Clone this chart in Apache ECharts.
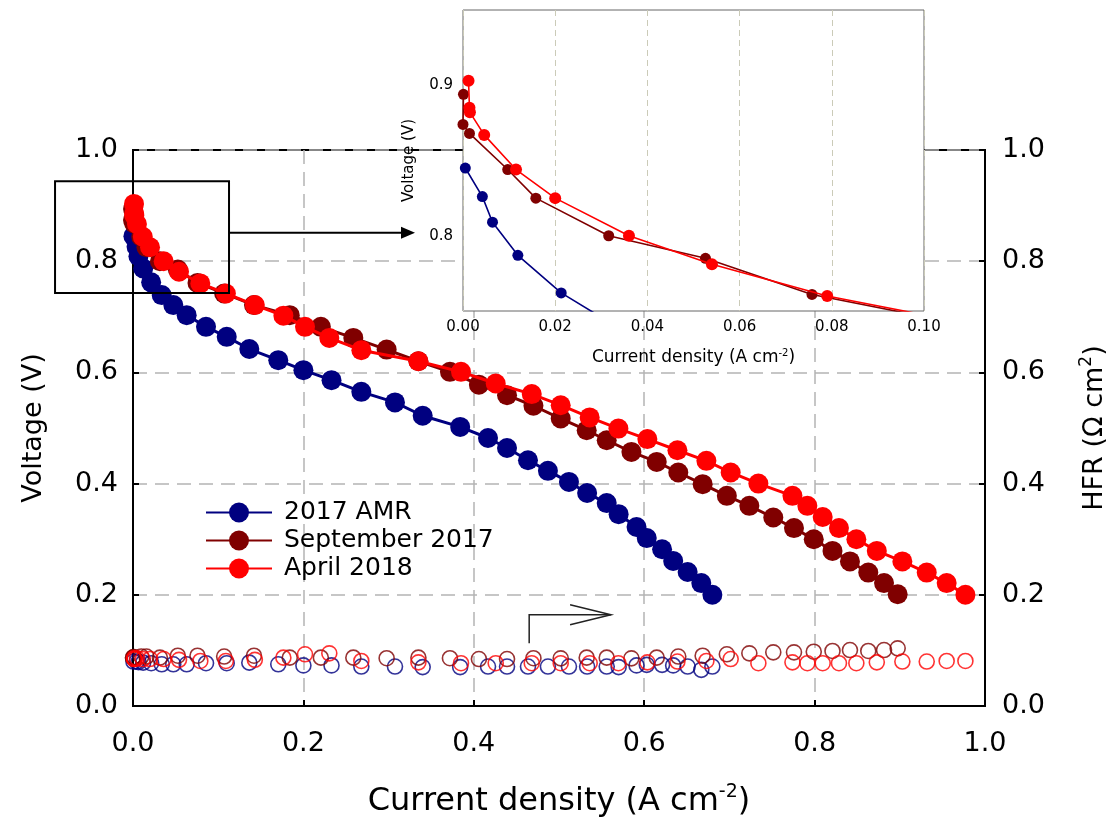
<!DOCTYPE html>
<html>
<head>
<meta charset="utf-8">
<script src="https://cdn.jsdelivr.net/npm/echarts@6/dist/echarts.min.js"></script>
<style>html,body{margin:0;padding:0;background:#fff}#c{width:1118px;height:819px}</style>
</head>
<body>
<div id="c"></div>
<script>
// ---------- data ----------
const seriesNames = ['2017 AMR', 'September 2017', 'April 2018'];
const seriesColors = ['#000080', '#800000', '#ff0000'];

// 2017 AMR
const amrCurrent = [0.0005,0.0042,0.0064,0.0119,0.0213,0.0337,0.0473,0.063,0.0857,0.110,0.1365,0.1705,0.200,0.233,0.268,0.3075,0.340,0.384,0.4167,0.439,0.4636,0.487,0.5117,0.533,0.556,0.570,0.591,0.603,0.621,0.634,0.651,0.667,0.680];
const amrVoltage = [0.845,0.826,0.809,0.787,0.762,0.739,0.721,0.703,0.682,0.664,0.642,0.622,0.604,0.586,0.565,0.546,0.522,0.502,0.482,0.464,0.442,0.423,0.403,0.383,0.365,0.345,0.322,0.302,0.282,0.261,0.241,0.221,0.200];
const amrHFR = [0.080,0.080,0.079,0.078,0.077,0.075,0.075,0.075,0.077,0.077,0.078,0.075,0.073,0.073,0.071,0.071,0.070,0.070,0.071,0.071,0.071,0.071,0.071,0.071,0.071,0.070,0.073,0.074,0.074,0.073,0.071,0.065,0.071];

// September 2017
const sepCurrent = [0.0001,0.0,0.0014,0.0097,0.0158,0.0316,0.0526,0.0757,0.107,0.142,0.184,0.2205,0.2586,0.2977,0.335,0.372,0.406,0.439,0.470,0.502,0.5325,0.556,0.585,0.6147,0.640,0.6686,0.697,0.7234,0.7515,0.7758,0.799,0.821,0.8415,0.863,0.8815,0.8975];
const sepVoltage = [0.894,0.874,0.868,0.844,0.825,0.800,0.785,0.761,0.742,0.721,0.703,0.682,0.662,0.641,0.620,0.601,0.578,0.559,0.540,0.517,0.496,0.478,0.457,0.439,0.420,0.399,0.378,0.360,0.339,0.320,0.300,0.279,0.260,0.240,0.221,0.201];
const sepHFR = [0.087,0.087,0.088,0.089,0.089,0.087,0.0905,0.0905,0.089,0.0905,0.087,0.087,0.087,0.086,0.087,0.086,0.0845,0.0845,0.086,0.0857,0.087,0.087,0.0857,0.087,0.089,0.0905,0.093,0.0947,0.0965,0.0965,0.0977,0.099,0.1007,0.099,0.1007,0.1037];

// April 2018
const aprCurrent = [0.0012,0.0014,0.0015,0.0046,0.0115,0.020,0.036,0.054,0.079,0.109,0.143,0.1765,0.2019,0.2304,0.268,0.335,0.385,0.4257,0.468,0.502,0.536,0.5697,0.6037,0.639,0.673,0.7015,0.734,0.774,0.7915,0.8095,0.8286,0.849,0.873,0.903,0.9316,0.955,0.977];
const aprVoltage = [0.903,0.885,0.882,0.867,0.844,0.825,0.800,0.781,0.760,0.742,0.721,0.702,0.682,0.662,0.640,0.620,0.601,0.580,0.561,0.541,0.519,0.499,0.480,0.460,0.441,0.420,0.400,0.378,0.360,0.340,0.320,0.300,0.279,0.260,0.240,0.221,0.200];
const aprHFR = [0.0857,0.0845,0.0845,0.0857,0.0845,0.0845,0.0845,0.083,0.081,0.081,0.083,0.087,0.093,0.0947,0.081,0.0785,0.077,0.077,0.077,0.077,0.077,0.077,0.0785,0.080,0.081,0.0845,0.077,0.0785,0.077,0.077,0.077,0.077,0.0785,0.080,0.080,0.081,0.081];

// axis ticks
const mainTicks = [0.0, 0.2, 0.4, 0.6, 0.8, 1.0];
const insetXTicks = [0.00, 0.02, 0.04, 0.06, 0.08, 0.10];
const insetYLabels = [0.8, 0.9];

// annotation anchors (data units of main axes)
const zoomBox = {x0: -0.0915, x1: 0.1127, y0: 0.743, y1: 0.944};
const zoomArrow = {y: 0.851, xEnd: 0.331};
const hfrArrow = {x: 0.465, yLow: 0.113, yHigh: 0.164, xEnd: 0.561, headBack: 0.513, headHalf: 0.018};

// ---------- chart ----------
const FONT = 'DejaVu Sans, Liberation Sans, sans-serif';
const pairs = (xs, ys) => xs.map((x, i) => [x, ys[i]]);
const curX = [amrCurrent, sepCurrent, aprCurrent];
const volY = [amrVoltage, sepVoltage, aprVoltage];
const hfrY = [amrHFR, sepHFR, aprHFR];

const chart = echarts.init(document.getElementById('c'), null, {renderer: 'canvas'});

const gridDash = [14, 8];
const series = [];
for (let i = 0; i < 3; i++) {
  series.push({
    name: seriesNames[i], type: 'line', xAxisIndex: 0, yAxisIndex: 0,
    data: pairs(curX[i], volY[i]), symbol: 'circle', symbolSize: 20,
    lineStyle: {color: seriesColors[i], width: 3}, itemStyle: {color: seriesColors[i]},
    z: 3 + i, animation: false
  });
}
for (let i = 0; i < 3; i++) {
  series.push({
    name: 'HFR ' + seriesNames[i], type: 'scatter', xAxisIndex: 0, yAxisIndex: 1,
    data: pairs(curX[i], hfrY[i]), symbol: 'circle', symbolSize: 15,
    itemStyle: {color: 'rgba(0,0,0,0)', borderColor: seriesColors[i], borderWidth: 1.6},
    z: 3 + i, animation: false
  });
}
for (let i = 0; i < 3; i++) {
  const s = {
    name: 'inset ' + seriesNames[i], type: 'line', xAxisIndex: 1, yAxisIndex: 2,
    data: pairs(curX[i], volY[i]), symbol: 'circle', symbolSize: i === 2 ? 12 : 11,
    lineStyle: {color: seriesColors[i], width: 1.6}, itemStyle: {color: seriesColors[i]},
    clip: true, z: 13 + i, animation: false
  };
  if (i === 0) {
    s.markLine = {
      silent: true, symbol: 'none', label: {show: false}, animation: false,
      lineStyle: {color: '#cbcbb8', type: [6, 4], width: 1},
      data: insetYLabels.map(v => ({yAxis: v}))
    };
  }
  series.push(s);
}

const tickLabel = {color: '#000', fontFamily: FONT};
const supRich = (big, small, lh) => ({
  a: {fontSize: big, fontFamily: FONT, color: '#000', lineHeight: lh},
  s: {fontSize: small, fontFamily: FONT, color: '#000', lineHeight: small, verticalAlign: 'top'}
});

chart.setOption({
  animation: false,
  backgroundColor: '#fff',
  grid: [
    {left: 133, top: 150, width: 852, height: 556, show: true, borderColor: '#000', borderWidth: 2, backgroundColor: 'transparent', z: 0, containLabel: false, outerBoundsMode: 'none'},
    {left: 463, top: 10, width: 461, height: 301, show: true, borderColor: '#666', borderWidth: 1, backgroundColor: '#fff', z: 10, containLabel: false, outerBoundsMode: 'none'}
  ],
  legend: {
    data: seriesNames, orient: 'vertical', left: 200, top: 495,
    itemWidth: 66, itemHeight: 25, itemGap: 3,
    textStyle: {fontSize: 25, fontFamily: FONT, color: '#000', padding: [0, 0, 0, 7]}
  },
  xAxis: [
    {
      type: 'value', gridIndex: 0, min: mainTicks[0], max: mainTicks[mainTicks.length - 1], interval: 0.2,
      axisLine: {show: true, onZero: false, lineStyle: {color: '#000', width: 2}},
      axisTick: {show: true, inside: true, length: 6, lineStyle: {color: '#000', width: 2}},
      axisLabel: Object.assign({fontSize: 27, margin: 24, formatter: v => v.toFixed(1)}, tickLabel),
      splitLine: {show: true, lineStyle: {color: '#b4b4b4', type: gridDash, width: 1.5}},
      name: '{a|Current density (A cm}{s|-2}{a|)}', nameLocation: 'middle', nameGap: 77,
      nameTextStyle: {rich: supRich(32, 19, 38)}
    },
    {
      type: 'value', gridIndex: 1, min: insetXTicks[0], max: insetXTicks[insetXTicks.length - 1], interval: 0.02, z: 11,
      axisLine: {show: false},
      axisTick: {show: false},
      axisLabel: Object.assign({fontSize: 15, margin: 9, formatter: v => v.toFixed(2)}, tickLabel),
      splitLine: {show: true, lineStyle: {color: '#cbcbb8', type: [6, 4], width: 1}},
      name: '{a|Current density (A cm}{s|-2}{a|)}', nameLocation: 'middle', nameGap: 37,
      nameTextStyle: {rich: supRich(17, 10, 20)}
    }
  ],
  yAxis: [
    {
      type: 'value', gridIndex: 0, position: 'left', min: 0, max: 1, interval: 0.2,
      axisLine: {show: true, onZero: false, lineStyle: {color: '#000', width: 2}},
      axisTick: {show: true, inside: true, length: 6, lineStyle: {color: '#000', width: 2}},
      axisLabel: Object.assign({fontSize: 27, margin: 15, formatter: v => v.toFixed(1)}, tickLabel),
      splitLine: {show: true, lineStyle: {color: '#b4b4b4', type: gridDash, width: 1.5}},
      name: 'Voltage (V)', nameLocation: 'middle', nameGap: 86,
      nameTextStyle: {fontSize: 27, fontFamily: FONT, color: '#000'}
    },
    {
      type: 'value', gridIndex: 0, position: 'right', min: 0, max: 1, interval: 0.2,
      axisLine: {show: true, onZero: false, lineStyle: {color: '#000', width: 2}},
      axisTick: {show: true, inside: true, length: 6, lineStyle: {color: '#000', width: 2}},
      axisLabel: Object.assign({fontSize: 27, margin: 17, formatter: v => v.toFixed(1)}, tickLabel),
      splitLine: {show: false},
      name: '{a|HFR (Ω cm}{s|2}{a|)}', nameLocation: 'middle', nameGap: 93,
      nameTextStyle: {rich: supRich(27, 17, 34)}
    },
    {
      type: 'value', gridIndex: 1, min: 0.75, max: 0.95, interval: 0.05, z: 11,
      axisLine: {show: false},
      axisTick: {show: false},
      axisLabel: Object.assign({fontSize: 15, margin: 10, formatter: v => insetYLabels.some(t => Math.abs(t - v) < 1e-6) ? v.toFixed(1) : ''}, tickLabel),
      splitLine: {show: false},
      name: 'Voltage (V)', nameLocation: 'middle', nameGap: 46,
      nameTextStyle: {fontSize: 15, fontFamily: FONT, color: '#000'}
    }
  ],
  series: series
});

// ---------- annotations (positioned through the main axes) ----------
const P = (x, y) => chart.convertToPixel({gridIndex: 0}, [x, y]);
const b0 = P(zoomBox.x0, zoomBox.y1), b1 = P(zoomBox.x1, zoomBox.y0);
const a0 = P(zoomBox.x1, zoomArrow.y), a1 = P(zoomArrow.xEnd, zoomArrow.y);
const h0 = P(hfrArrow.x, hfrArrow.yLow), h1 = P(hfrArrow.x, hfrArrow.yHigh), h2 = P(hfrArrow.xEnd, hfrArrow.yHigh);
const hb1 = P(hfrArrow.headBack, hfrArrow.yHigh + hfrArrow.headHalf), hb2 = P(hfrArrow.headBack, hfrArrow.yHigh - hfrArrow.headHalf);

chart.setOption({
  graphic: [
    {type: 'rect', z: 20, shape: {x: b0[0], y: b0[1], width: b1[0] - b0[0], height: b1[1] - b0[1]}, style: {fill: 'none', stroke: '#000', lineWidth: 2}},
    {type: 'line', z: 20, shape: {x1: a0[0], y1: a0[1], x2: a1[0] - 12, y2: a1[1]}, style: {stroke: '#000', lineWidth: 2}},
    {type: 'polygon', z: 20, shape: {points: [[a1[0], a1[1]], [a1[0] - 14, a1[1] - 6], [a1[0] - 14, a1[1] + 6]]}, style: {fill: '#000'}},
    {type: 'polyline', z: 20, shape: {points: [h0, h1, h2]}, style: {stroke: '#222', lineWidth: 1.5, fill: 'none'}},
    {type: 'polyline', z: 20, shape: {points: [hb1, h2, hb2]}, style: {stroke: '#222', lineWidth: 1.5, fill: 'none'}}
  ]
});
</script>
</body>
</html>
